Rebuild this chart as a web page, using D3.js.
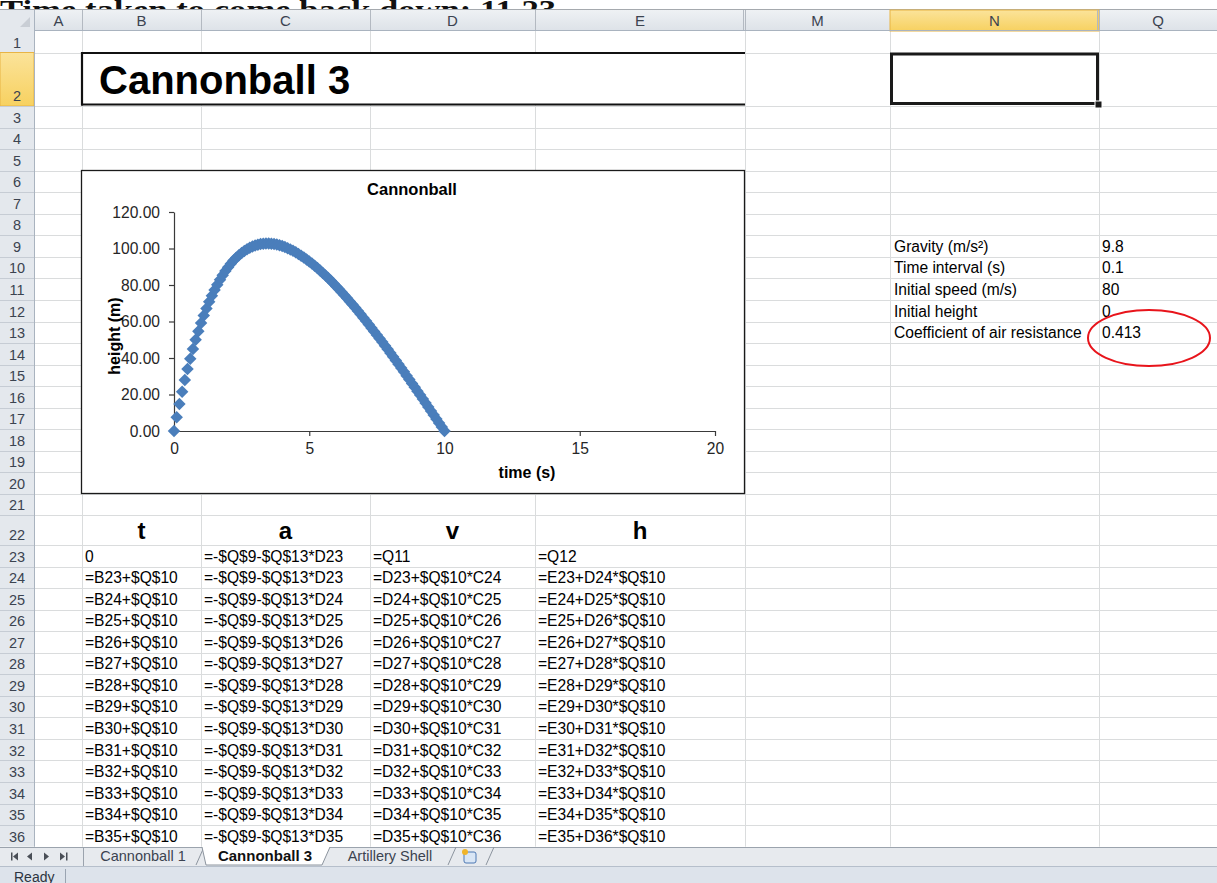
<!DOCTYPE html>
<html>
<head>
<meta charset="utf-8">
<script src="https://cdn.jsdelivr.net/npm/d3@7"></script>
<style>
body { margin: 0; background: #fff; overflow: hidden; }
svg { display: block; font-family: "Liberation Sans", Arial, sans-serif; }
</style>
</head>
<body>
<div id="sheet"></div>
<script>
// values (t step 0.1 s, h in m)
var times = [0, 0.1, 0.2, 0.3, 0.4, 0.5, 0.6, 0.7, 0.8, 0.9,
    1, 1.1, 1.2, 1.3, 1.4, 1.5, 1.6, 1.7, 1.8, 1.9,
    2, 2.1, 2.2, 2.3, 2.4, 2.5, 2.6, 2.7, 2.8, 2.9,
    3, 3.1, 3.2, 3.3, 3.4, 3.5, 3.6, 3.7, 3.8, 3.9,
    4, 4.1, 4.2, 4.3, 4.4, 4.5, 4.6, 4.7, 4.8, 4.9,
    5, 5.1, 5.2, 5.3, 5.4, 5.5, 5.6, 5.7, 5.8, 5.9,
    6, 6.1, 6.2, 6.3, 6.4, 6.5, 6.6, 6.7, 6.8, 6.9,
    7, 7.1, 7.2, 7.3, 7.4, 7.5, 7.6, 7.7, 7.8, 7.9,
    8, 8.1, 8.2, 8.3, 8.4, 8.5, 8.6, 8.7, 8.8, 8.9,
    9, 9.1, 9.2, 9.3, 9.4, 9.5, 9.6, 9.7, 9.8, 9.9, 10];
var heights = [0, 7.57, 14.73, 21.50, 27.89, 33.92, 39.60, 44.95, 49.98, 54.70,
    59.13, 63.28, 67.16, 70.78, 74.16, 77.29, 80.20, 82.89, 85.38, 87.66,
    89.75, 91.65, 93.38, 94.94, 96.34, 97.58, 98.67, 99.62, 100.43, 101.11,
    101.66, 102.10, 102.41, 102.62, 102.72, 102.71, 102.62, 102.42, 102.14, 101.76,
    101.31, 100.78, 100.17, 99.49, 98.74, 97.92, 97.04, 96.09, 95.09, 94.03,
    92.92, 91.75, 90.53, 89.27, 87.96, 86.61, 85.21, 83.78, 82.30, 80.79,
    79.24, 77.66, 76.05, 74.40, 72.73, 71.02, 69.29, 67.54, 65.75, 63.94,
    62.11, 60.26, 58.38, 56.49, 54.57, 52.64, 50.69, 48.72, 46.73, 44.73,
    42.71, 40.68, 38.63, 36.57, 34.50, 32.41, 30.32, 28.21, 26.09, 23.96,
    21.82, 19.67, 17.51, 15.34, 13.16, 10.98, 8.79, 6.59, 4.38, 2.17, -0.05];
var yTicks = [0, 20, 40, 60, 80, 100, 120];
var xTicks = [0, 5, 10, 15, 20];

var colLetters = ["A", "B", "C", "D", "E", "M", "N", "Q"];
var paramLabels = ["Gravity (m/s\u00b2)", "Time interval (s)", "Initial speed (m/s)", "Initial height", "Coefficient of air resistance"];
var paramValues = ["9.8", "0.1", "80", "0", "0.413"];
var tableHeads = ["t", "a", "v", "h"];
var sheetTabs = ["Cannonball 1", "Cannonball 3", "Artillery Shell"];
var topNote = "Time taken to come back down: 11.23";

// layout of the grid
var W = 1217, H = 883;
var colEdges = [35, 82, 201, 370, 535, 745, 890, 1099, 1217];
var headTop = 10, headBottom = 31;
var rowHeights = [];
for (var r = 1; r <= 36; r++) {
    rowHeights.push(r == 1 ? 21.5 : r == 2 ? 53.5 : r == 22 ? 29.55 : 21.55);
}
var rowTops = [headBottom];
rowHeights.forEach(function(h, i) { rowTops.push(rowTops[i] + h); });
function rowTop(r) { return rowTops[r - 1]; }
function rowBottom(r) { return rowTops[r]; }
var gridBottom = rowBottom(36);

var svg = d3.select("#sheet").append("svg")
    .attr("width", W)
    .attr("height", H);

var defs = svg.append("defs");
var hg = defs.append("linearGradient").attr("id", "headGrad").attr("x1", 0).attr("y1", 0).attr("x2", 0).attr("y2", 1);
hg.append("stop").attr("offset", "0%").attr("stop-color", "#eef1f4");
hg.append("stop").attr("offset", "100%").attr("stop-color", "#dde2e8");
var sg = defs.append("linearGradient").attr("id", "selGrad").attr("x1", 0).attr("y1", 0).attr("x2", 0).attr("y2", 1);
sg.append("stop").attr("offset", "0%").attr("stop-color", "#fbe39a");
sg.append("stop").attr("offset", "100%").attr("stop-color", "#f7d160");
defs.append("clipPath").attr("id", "noteClip")
    .append("rect").attr("x", 0).attr("y", 0).attr("width", W).attr("height", headTop - 1);

svg.append("rect").attr("width", W).attr("height", H).attr("fill", "#fff");

// cut-off note above the sheet
svg.append("g").attr("clip-path", "url(#noteClip)")
    .append("text")
    .attr("x", 0)
    .attr("y", 19)
    .attr("textLength", 556)
    .attr("lengthAdjust", "spacingAndGlyphs")
    .style("font-family", "'Liberation Serif', 'DejaVu Serif', serif")
    .style("font-weight", "bold")
    .style("font-size", "27px")
    .attr("fill", "#111")
    .text(topNote);

// gridlines
var grid = svg.append("g").attr("stroke", "#dadcdd").attr("stroke-width", 1);
colEdges.slice(1, -1).forEach(function(x) {
    grid.append("line").attr("x1", x + 0.5).attr("x2", x + 0.5).attr("y1", headBottom).attr("y2", gridBottom);
});
for (var rr = 1; rr <= 36; rr++) {
    var yb = Math.round(rowBottom(rr)) + 0.5;
    grid.append("line").attr("x1", 35).attr("x2", W).attr("y1", yb).attr("y2", yb);
}

// column header
svg.append("line").attr("x1", 0).attr("x2", W).attr("y1", headTop - 0.5).attr("y2", headTop - 0.5).attr("stroke", "#a5a9ae");
svg.append("rect").attr("x", 0).attr("y", headTop).attr("width", W).attr("height", headBottom - headTop).attr("fill", "url(#headGrad)");
var colHead = svg.append("g");
colLetters.forEach(function(c, i) {
    var x0 = colEdges[i], x1 = colEdges[i + 1];
    if (c == "N") {
        colHead.append("rect").attr("x", x0).attr("y", headTop).attr("width", x1 - x0).attr("height", headBottom - headTop)
            .attr("fill", "url(#selGrad)").attr("stroke", "#e8b445");
    }
    colHead.append("line").attr("x1", x1 + 0.5).attr("x2", x1 + 0.5).attr("y1", headTop).attr("y2", headBottom)
        .attr("stroke", "#b3b9c1");
    colHead.append("text")
        .attr("x", (x0 + x1) / 2)
        .attr("y", headBottom - 5)
        .attr("text-anchor", "middle")
        .style("font-size", "15px")
        .attr("fill", "#3b4350")
        .text(c);
});
// hidden column markers
[745, 1099].forEach(function(x) {
    colHead.append("line").attr("x1", x - 1.5).attr("x2", x - 1.5).attr("y1", headTop).attr("y2", headBottom).attr("stroke", "#b3b9c1");
});
svg.append("line").attr("x1", 0).attr("x2", W).attr("y1", headBottom - 0.5).attr("y2", headBottom - 0.5).attr("stroke", "#a9b3bf");

// corner
svg.append("rect").attr("x", 0).attr("y", headTop).attr("width", 35).attr("height", headBottom - headTop).attr("fill", "#e4e8ed");
svg.append("path").attr("d", "M30,17 L30,27 L20,27 Z").attr("fill", "#c9ced5");

// row header
var rowHead = svg.append("g");
rowHead.append("rect").attr("x", 0).attr("y", headBottom).attr("width", 35).attr("height", gridBottom - headBottom).attr("fill", "#e4e8ed");
for (var k = 1; k <= 36; k++) {
    var t0 = rowTop(k), t1 = rowBottom(k);
    if (k == 2) {
        rowHead.append("rect").attr("x", 0).attr("y", t0).attr("width", 34).attr("height", t1 - t0)
            .attr("fill", "url(#selGrad)").attr("stroke", "#e8b445");
    }
    rowHead.append("line").attr("x1", 0).attr("x2", 35).attr("y1", Math.round(t1) + 0.5).attr("y2", Math.round(t1) + 0.5)
        .attr("stroke", "#c6ccd4");
    rowHead.append("text")
        .attr("x", 17)
        .attr("y", t1 - 5)
        .attr("text-anchor", "middle")
        .style("font-size", "14.5px")
        .attr("fill", "#3b4350")
        .text(k);
}
rowHead.append("line").attr("x1", 34.5).attr("x2", 34.5).attr("y1", headTop).attr("y2", gridBottom).attr("stroke", "#a9b3bf");

// title cell B2:E2
svg.append("rect").attr("x", 82).attr("y", rowTop(2)).attr("width", 745 - 82).attr("height", rowBottom(2) - rowTop(2) - 1).attr("fill", "#fff");
var tb = svg.append("g").attr("stroke", "#111").attr("stroke-width", 2.2);
tb.append("line").attr("x1", 81).attr("x2", 745).attr("y1", 53).attr("y2", 53);
tb.append("line").attr("x1", 81).attr("x2", 745).attr("y1", 104.5).attr("y2", 104.5);
tb.append("line").attr("x1", 82).attr("x2", 82).attr("y1", 52).attr("y2", 105.5);
svg.append("text")
    .attr("x", 99)
    .attr("y", 94)
    .style("font-size", "40px")
    .style("font-weight", "bold")
    .attr("fill", "#000")
    .text("Cannonball 3");

// active cell N2
svg.append("rect").attr("x", 891.5).attr("y", 54).attr("width", 1099 - 893).attr("height", 104.5 - 55)
    .attr("fill", "#fff").attr("stroke", "#1a1a1a").attr("stroke-width", 3);
svg.append("rect").attr("x", 1095).attr("y", 101).attr("width", 7).attr("height", 7).attr("fill", "#1a1a1a").attr("stroke", "#fff");

// parameters N9:Q13
var cells = svg.append("g").style("font-size", "15.6px").attr("fill", "#000");
paramLabels.forEach(function(lbl, i) {
    var yb = rowBottom(9 + i) - 5;
    cells.append("text").attr("x", 894).attr("y", yb).text(lbl);
    cells.append("text").attr("x", 1102).attr("y", yb).text(paramValues[i]);
});

// table headers and formulas
var colLeft = [82, 201, 370, 535];
tableHeads.forEach(function(h, i) {
    cells.append("text")
        .attr("x", (colEdges[i + 1] + colEdges[i + 2]) / 2)
        .attr("y", rowBottom(22) - 6)
        .attr("text-anchor", "middle")
        .style("font-size", "24px")
        .style("font-weight", "bold")
        .text(h);
});
for (var row = 23; row <= 36; row++) {
    var p = row - 1;
    var f = row == 23
        ? ["0", "=-$Q$9-$Q$13*D23", "=Q11", "=Q12"]
        : ["=B" + p + "+$Q$10", "=-$Q$9-$Q$13*D" + p, "=D" + p + "+$Q$10*C" + row, "=E" + p + "+D" + row + "*$Q$10"];
    f.forEach(function(s, i) {
        cells.append("text").attr("x", colLeft[i] + 3).attr("y", rowBottom(row) - 5).text(s);
    });
}

// the chart
var chart = svg.append("g");
chart.append("rect").attr("x", 81.5).attr("y", 170.5).attr("width", 663).attr("height", 323)
    .attr("fill", "#fff").attr("stroke", "#1a1a1a").attr("stroke-width", 1.3);

var x = d3.scaleLinear().domain([0, 20]).range([174, 715]);
var y = d3.scaleLinear().domain([0, 120]).range([431, 212]);

var xAxis = d3.axisBottom(x).tickValues(xTicks).tickSize(5).tickSizeOuter(0).tickPadding(7).tickFormat(d3.format("d"));
var yAxis = d3.axisLeft(y).tickValues(yTicks).tickSize(5).tickSizeOuter(0).tickPadding(9).tickFormat(d3.format(".2f"));

var gx = chart.append("g").attr("transform", "translate(0," + y(0) + ")").call(xAxis);
var gy = chart.append("g").attr("transform", "translate(" + x(0) + ",0)").call(yAxis);
[gx, gy].forEach(function(g) {
    g.selectAll("path, line").attr("stroke", "#3a3a3a").attr("stroke-width", 1.2);
    g.selectAll("text").style("font-size", "15.6px").style("font-family", "'Liberation Sans', Arial, sans-serif").attr("fill", "#262626");
});

chart.append("g").selectAll("path")
    .data(times)
    .enter()
    .append("path")
    .attr("transform", function(d, i) {
        return "translate(" + x(d) + "," + y(heights[i]) + ") rotate(45)";
    })
    .attr("d", d3.symbol(d3.symbolSquare, 78))
    .attr("fill", "#4a7ebb");

chart.append("text")
    .attr("x", 412)
    .attr("y", 195)
    .attr("text-anchor", "middle")
    .style("font-size", "16.5px")
    .style("font-weight", "bold")
    .text("Cannonball");
chart.append("text")
    .attr("x", 527)
    .attr("y", 478)
    .attr("text-anchor", "middle")
    .style("font-size", "16px")
    .style("font-weight", "bold")
    .text("time (s)");
chart.append("text")
    .attr("transform", "translate(120,336) rotate(-90)")
    .attr("text-anchor", "middle")
    .style("font-size", "16px")
    .style("font-weight", "bold")
    .text("height (m)");

// red mark round the coefficient
svg.append("ellipse").attr("cx", 1149).attr("cy", 338).attr("rx", 61).attr("ry", 28)
    .attr("fill", "none").attr("stroke", "#e8141b").attr("stroke-width", 2);

// sheet tabs
var tabY0 = Math.round(gridBottom), tabY1 = 866;
var tabs = svg.append("g");
tabs.append("rect").attr("x", 0).attr("y", tabY0).attr("width", W).attr("height", tabY1 - tabY0).attr("fill", "#e7eaee");
tabs.append("line").attr("x1", 0).attr("x2", W).attr("y1", tabY0 + 0.5).attr("y2", tabY0 + 0.5).attr("stroke", "#9ba3ad");
var navY = (tabY0 + tabY1) / 2;
tabs.append("path").attr("fill", "#4a4f57").attr("d",
    "M11," + (navY - 4) + "h1.5v8h-1.5z M18," + (navY - 4) + "l-5,4l5,4z" +
    " M32," + (navY - 4) + "l-5,4l5,4z" +
    " M44," + (navY - 4) + "l5,4l-5,4z" +
    " M60," + (navY - 4) + "l5,4l-5,4z M66," + (navY - 4) + "h1.5v8h-1.5z");
tabs.append("line").attr("x1", 83.5).attr("x2", 83.5).attr("y1", tabY0).attr("y2", tabY1).attr("stroke", "#9ba3ad");
var tabX = [[86, 200], [204, 326], [328, 452]];
sheetTabs.forEach(function(name, i) {
    var a = tabX[i][0], b = tabX[i][1];
    if (i == 1) {
        tabs.append("path").attr("d", "M" + (a - 2) + "," + tabY0 + " L" + (a + 2) + "," + (tabY1 - 1) + " L" + (b - 4) + "," + (tabY1 - 1) + " L" + (b + 4) + "," + tabY0)
            .attr("fill", "#fff").attr("stroke", "#8c949e");
    } else {
        tabs.append("line").attr("x1", b - 4).attr("x2", b + 4).attr("y1", tabY1 - 1).attr("y2", tabY0).attr("stroke", "#8c949e");
    }
    tabs.append("text")
        .attr("x", (a + b) / 2)
        .attr("y", tabY1 - 5)
        .attr("text-anchor", "middle")
        .style("font-size", i == 1 ? "15px" : "14.5px")
        .style("font-weight", i == 1 ? "bold" : "normal")
        .attr("fill", i == 1 ? "#111" : "#3b4350")
        .text(name);
});
// insert sheet tab
tabs.append("rect").attr("x", 464).attr("y", tabY0 + 5).attr("width", 12).attr("height", 11).attr("rx", 2)
    .attr("fill", "#d9e6f5").attr("stroke", "#4d78b3");
tabs.append("circle").attr("cx", 465).attr("cy", tabY0 + 5).attr("r", 3).attr("fill", "#f0b429");
tabs.append("line").attr("x1", 486).attr("x2", 494).attr("y1", tabY1 - 1).attr("y2", tabY0).attr("stroke", "#8c949e");

// status bar
var statusBar = svg.append("g");
statusBar.append("rect").attr("x", 0).attr("y", tabY1).attr("width", W).attr("height", H - tabY1).attr("fill", "#dde3eb");
statusBar.append("line").attr("x1", 0).attr("x2", W).attr("y1", tabY1 + 0.5).attr("y2", tabY1 + 0.5).attr("stroke", "#b6bfcb");
statusBar.append("line").attr("x1", 65.5).attr("x2", 65.5).attr("y1", tabY1 + 3).attr("y2", H).attr("stroke", "#9aa4b1");
statusBar.append("text").attr("x", 14).attr("y", H - 1).style("font-size", "14px").attr("fill", "#2c3440").text("Ready");
</script>
</body>
</html>
